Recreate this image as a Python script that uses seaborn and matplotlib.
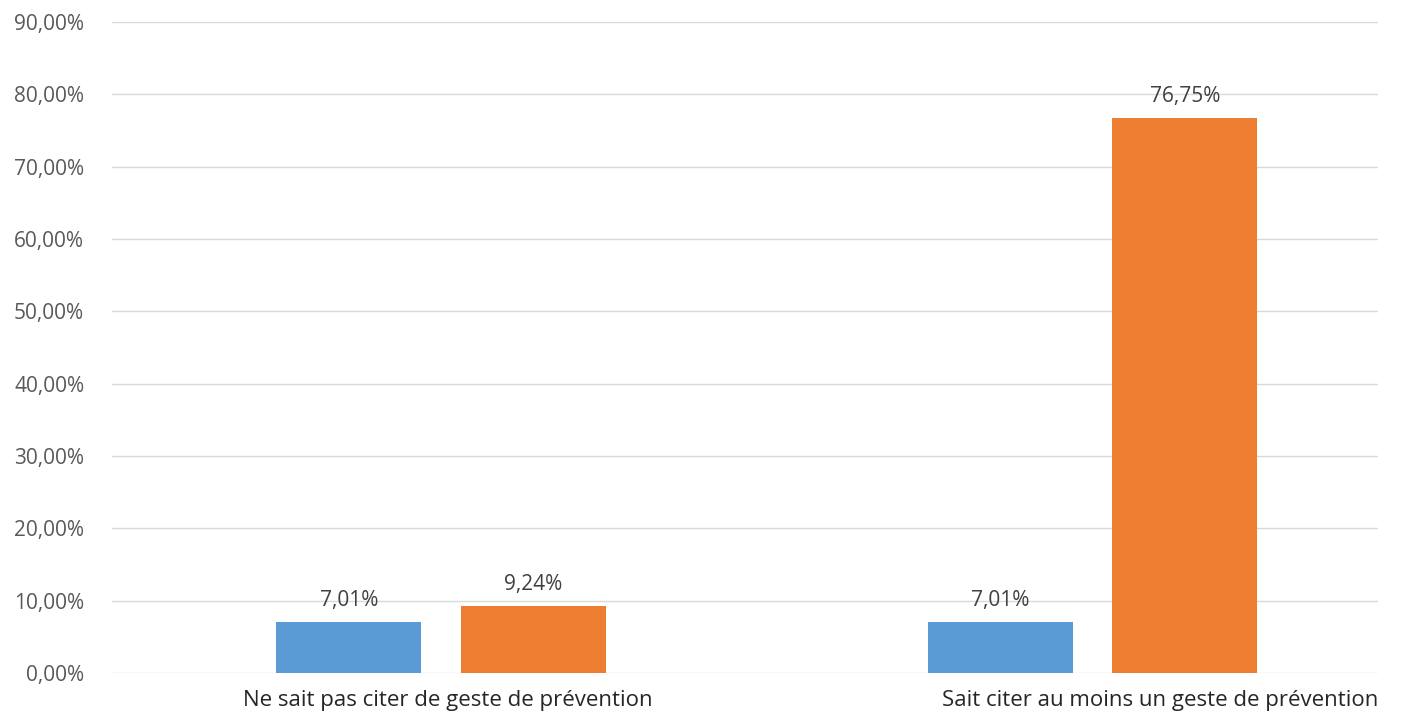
import matplotlib
matplotlib.use('Agg')
import matplotlib.pyplot as plt
import matplotlib.transforms as mtransforms
import seaborn as sns
import pandas as pd

# données
categories = ['Ne sait pas citer de geste de prévention',
              'Sait citer au moins un geste de prévention']
series = ['Série 1', 'Série 2']
values_s1 = [7.01, 7.01]
values_s2 = [9.24, 76.75]
yticks = [0, 10, 20, 30, 40, 50, 60, 70, 80, 90]
colors = ['#5B9BD5', '#ED7D31']

df = pd.DataFrame({
    'categorie': categories * 2,
    'serie': [series[0]] * 2 + [series[1]] * 2,
    'valeur': values_s1 + values_s2,
})

sns.set_style('white')
plt.rcParams['font.family'] = ['Open Sans', 'DejaVu Sans']

fig = plt.figure(figsize=(14.06, 7.15), dpi=100)
ax = fig.add_axes([112 / 1406, 1 - 673 / 715, (1378 - 112) / 1406, (673 - 22) / 715])

sns.barplot(data=df, x='categorie', y='valeur', hue='serie', order=categories,
            hue_order=series, palette=colors, width=0.5664, gap=0.214,
            saturation=1, linewidth=0, legend=False, ax=ax)

for cont in ax.containers:
    ax.bar_label(cont, labels=[f'{v:.2f}%'.replace('.', ',') for v in cont.datavalues],
                 padding=8, fontsize=15, color='#404040')

ax.set_ylim(0, 90)
ax.set_xlim(-0.505, 1.438)
ax.set_yticks(yticks)
ax.set_yticklabels([f'{t:.2f}%'.replace('.', ',') for t in yticks], fontsize=15, color='#595959')
ax.yaxis.grid(True, color='#d9d9d9', linewidth=1)
ax.set_axisbelow(True)
ax.tick_params(axis='both', length=0)
ax.tick_params(axis='y', pad=20)
ax.tick_params(axis='x', pad=12)
for lab in ax.get_xticklabels():
    lab.set_fontsize(16)
    lab.set_color('#262626')
# Excel décale les libellés ; le second est calé sur le bord droit
labs = ax.get_xticklabels()
labs[0].set_transform(labs[0].get_transform() +
                      mtransforms.ScaledTranslation(0.07, 0, fig.dpi_scale_trans))
labs[1].set_horizontalalignment('right')
labs[1].set_transform(labs[1].get_transform() +
                      mtransforms.ScaledTranslation(2.855, 0, fig.dpi_scale_trans))
ax.set_xlabel('')
ax.set_ylabel('')
sns.despine(ax=ax, left=True, bottom=True, top=True, right=True)

fig.savefig('out.png', dpi=100)
